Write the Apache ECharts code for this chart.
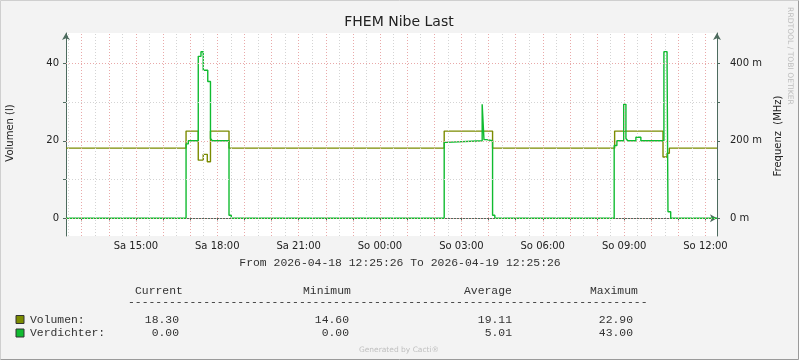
<!DOCTYPE html>
<html>
<head>
<meta charset="utf-8">
<title>FHEM Nibe Last</title>
<script src="https://cdn.jsdelivr.net/npm/echarts@6/dist/echarts.min.js"></script>
<style>
  html, body { margin: 0; padding: 0; background: #f3f3f3; }
  #chart { width: 799px; height: 360px; }
</style>
</head>
<body>
<div id="chart"></div>
<script>
// Zeitraum der Grafik
const startTime = '2026-04-18 12:25:26';
const endTime = '2026-04-19 12:25:26';

// Volumen (l): Wert gilt ab Zeitpunkt bis zum naechsten
const volumenTimes = [
  '2026-04-18 12:25:26', '2026-04-18 16:51', '2026-04-18 17:18', '2026-04-18 17:29',
  '2026-04-18 17:38', '2026-04-18 17:45', '2026-04-18 18:26',
  '2026-04-19 02:22', '2026-04-19 04:09',
  '2026-04-19 08:39', '2026-04-19 10:26', '2026-04-19 10:35', '2026-04-19 10:40',
  '2026-04-19 12:25:26'
];
const volumenValues = [
  18.1, 22.5, 15.0, 16.5,
  14.6, 22.5, 18.1,
  22.5, 18.1,
  22.5, 15.8, 16.8, 18.1,
  18.1
];

// Verdichter
const verdichterTimes = [
  '2026-04-18 12:25:26', '2026-04-18 16:51', '2026-04-18 16:56', '2026-04-18 17:18',
  '2026-04-18 17:24', '2026-04-18 17:29', '2026-04-18 17:39', '2026-04-18 17:45',
  '2026-04-18 17:49', '2026-04-18 18:26', '2026-04-18 18:31',
  '2026-04-19 02:22', '2026-04-19 02:27', '2026-04-19 03:46', '2026-04-19 03:50',
  '2026-04-19 03:56', '2026-04-19 04:09', '2026-04-19 04:14',
  '2026-04-19 08:38', '2026-04-19 08:44', '2026-04-19 08:59', '2026-04-19 09:04',
  '2026-04-19 09:08', '2026-04-19 09:26', '2026-04-19 09:37', '2026-04-19 10:28',
  '2026-04-19 10:35', '2026-04-19 10:37', '2026-04-19 10:43',
  '2026-04-19 12:25:26'
];
const verdichterValues = [
  0, 19.2, 20.0, 41.8,
  43.0, 38.2, 35.3, 20.6,
  20.0, 0.8, 0,
  19.6, 20.0, 29.4, 20.3,
  20.0, 0.8, 0,
  18.8, 20.0, 29.4, 20.6,
  20.0, 20.9, 20.0, 43.0,
  40.0, 1.7, 0,
  0
];

// Achsen-Beschriftungen
const xLabelTimes = [
  '2026-04-18 15:00', '2026-04-18 18:00', '2026-04-18 21:00', '2026-04-19 00:00',
  '2026-04-19 03:00', '2026-04-19 06:00', '2026-04-19 09:00', '2026-04-19 12:00'
];
const leftTicks = [0, 10, 20, 30, 40];
const leftLabels = [0, 20, 40];
const rightTicks = [0, 100, 200, 300, 400];
const rightLabels = [0, 200, 400];
const majorY = [0, 20, 40];
const minorY = [10, 30];

// Legende
const legendNames = ['Volumen:', 'Verdichter:'];
const currentVals = ['18.30', '0.00'];
const minVals = ['14.60', '0.00'];
const avgVals = ['19.11', '5.01'];
const maxVals = ['22.90', '43.00'];

const COL_VOL = '#7b8b00';
const COL_VERD = '#10bb30';
const COL_AXIS = '#4d6b5e';
const COL_MGRID = '#e9a9a9';
const COL_GRID = '#d4d4d4';
const WEEKDAYS = ['So', 'Mo', 'Di', 'Mi', 'Do', 'Fr', 'Sa'];

const parseT = s => new Date(s.replace(' ', 'T')).getTime();
const pad = n => String(n).padStart(2, '0');

// Stufenverlauf: am Zeitpunkt senkrecht auf den neuen Wert springen
function stepPairs(times, values) {
  const out = [];
  times.forEach((t, i) => {
    const ms = parseT(t);
    if (i > 0) out.push([ms, values[i - 1]]);
    out.push([ms, values[i]]);
  });
  return out;
}

const tMin = parseT(startTime);
const tMax = parseT(endTime);

// Gitterlinien: stuendlich (rot) und halbstuendlich (grau)
const HOUR = 3600 * 1000;
const firstHour = parseT('2026-04-18 13:00');
const hourLines = [];
const halfLines = [];
for (let t = firstHour - HOUR / 2; t < tMax; t += HOUR / 2) {
  if (t <= tMin) continue;
  if ((t - firstHour) % HOUR === 0) hourLines.push(t); else halfLines.push(t);
}

const dotted = [1, 2];
const gridMarks = [
  ...halfLines.map(t => ({ xAxis: t, lineStyle: { color: COL_GRID } })),
  ...minorY.map(v => ({ yAxis: v, lineStyle: { color: COL_GRID } })),
  ...hourLines.map(t => ({ xAxis: t, lineStyle: { color: COL_MGRID } })),
  ...majorY.map(v => ({ yAxis: v, lineStyle: { color: COL_MGRID } }))
];

const mono = 'Liberation Mono';
const monoSize = 11.4;
function monoText(x, y, text, align) {
  return {
    type: 'text', silent: true,
    style: { x, y, text, fill: '#333', font: `${monoSize}px "${mono}"`, textAlign: align || 'left', textVerticalAlign: 'middle' }
  };
}

const legendGraphics = [];
legendNames.forEach((name, i) => {
  const y = 319.5 + i * 13.5;
  legendGraphics.push({
    type: 'rect', silent: true,
    shape: { x: 16, y: y - 4, width: 8, height: 8 },
    style: { fill: i === 0 ? COL_VOL : COL_VERD, stroke: '#333', lineWidth: 1 }
  });
  legendGraphics.push(monoText(30, y, name));
  legendGraphics.push(monoText(179, y, currentVals[i], 'right'));
  legendGraphics.push(monoText(349, y, minVals[i], 'right'));
  legendGraphics.push(monoText(512, y, avgVals[i], 'right'));
  legendGraphics.push(monoText(633, y, maxVals[i], 'right'));
});

const axisLineCfg = { show: true, lineStyle: { color: COL_AXIS, width: 1 }, symbol: ['none', 'arrow'], symbolSize: [6, 7] };

const chart = echarts.init(document.getElementById('chart'));
chart.setOption({
  backgroundColor: '#f3f3f3',
  animation: false,
  grid: { left: 66, right: 82, top: 33, bottom: 124, show: true, backgroundColor: '#ffffff', borderWidth: 0 },
  xAxis: {
    type: 'value', min: tMin, max: tMax, scale: true,
    axisLine: axisLineCfg,
    axisTick: { show: true, length: 3, lineStyle: { color: COL_AXIS }, customValues: hourLines },
    axisLabel: {
      customValues: xLabelTimes.map(parseT),
      color: '#222', fontFamily: 'DejaVu Sans', fontSize: 10, margin: 5,
      formatter: v => { const d = new Date(v); return WEEKDAYS[d.getDay()] + ' ' + pad(d.getHours()) + ':' + pad(d.getMinutes()); }
    },
    splitLine: { show: false }
  },
  yAxis: [
    {
      type: 'value', min: -4.57, max: 47.82, position: 'left',
      axisLine: axisLineCfg,
      axisTick: { show: true, length: 3, lineStyle: { color: COL_AXIS }, customValues: leftTicks },
      axisLabel: { customValues: leftLabels, color: '#222', fontFamily: 'DejaVu Sans', fontSize: 10, margin: 7 },
      splitLine: { show: false }
    },
    {
      type: 'value', min: -45.7, max: 478.2, position: 'right',
      axisLine: axisLineCfg,
      axisTick: { show: true, length: 3, lineStyle: { color: COL_AXIS }, customValues: rightTicks },
      axisLabel: { customValues: rightLabels, color: '#222', fontFamily: 'DejaVu Sans', fontSize: 10, margin: 13, formatter: v => v + ' m' },
      splitLine: { show: false }
    }
  ],
  series: [
    {
      name: 'grid', type: 'line', data: [], silent: true, z: 1,
      markLine: {
        silent: true, symbol: 'none', label: { show: false },
        lineStyle: { type: dotted, width: 1 },
        emphasis: { disabled: true },
        data: gridMarks
      }
    },
    {
      name: 'Volumen', type: 'line', showSymbol: false, symbol: 'none', z: 3,
      data: stepPairs(volumenTimes, volumenValues),
      lineStyle: { color: COL_VOL, width: 1.4 }, itemStyle: { color: COL_VOL }
    },
    {
      name: 'Verdichter', type: 'line', showSymbol: false, symbol: 'none', z: 4,
      data: stepPairs(verdichterTimes, verdichterValues),
      lineStyle: { color: COL_VERD, width: 1.4 }, itemStyle: { color: COL_VERD }
    }
  ],
  graphic: [
    // Rahmen
    { type: 'polyline', silent: true, shape: { points: [[0.5, 359.5], [0.5, 0.5], [798.5, 0.5]] }, style: { stroke: '#cfcfcf', lineWidth: 1, fill: null } },
    { type: 'polyline', silent: true, shape: { points: [[0.5, 359.5], [798.5, 359.5], [798.5, 0.5]] }, style: { stroke: '#9a9a9a', lineWidth: 1, fill: null } },
    { type: 'text', silent: true, style: { x: 399, y: 22, text: 'FHEM Nibe Last', fill: '#222', font: '14px "DejaVu Sans"', textAlign: 'center', textVerticalAlign: 'middle' } },
    { type: 'text', silent: true, x: 10, y: 133, rotation: Math.PI / 2, style: { x: 0, y: 0, text: 'Volumen (l)', fill: '#222', font: '10px "DejaVu Sans"', textAlign: 'center', textVerticalAlign: 'middle' } },
    { type: 'text', silent: true, x: 778, y: 136, rotation: Math.PI / 2, style: { x: 0, y: 0, text: 'Frequenz  (MHz)', fill: '#222', font: '10px "DejaVu Sans"', textAlign: 'center', textVerticalAlign: 'middle' } },
    { type: 'text', silent: true, x: 790, y: 56, rotation: -Math.PI / 2, style: { x: 0, y: 0, text: 'RRDTOOL / TOBI OETIKER', fill: '#bdbdbd', font: '7.6px "DejaVu Sans"', textAlign: 'center', textVerticalAlign: 'middle' } },
    monoText(400, 262.5, 'From 2026-04-18 12:25:26 To 2026-04-19 12:25:26', 'center'),
    monoText(135, 290.5, 'Current'),
    monoText(303, 290.5, 'Minimum'),
    monoText(464, 290.5, 'Average'),
    monoText(590, 290.5, 'Maximum'),
    monoText(128, 302, '-'.repeat(76)),
    ...legendGraphics,
    { type: 'text', silent: true, style: { x: 399, y: 350, text: 'Generated by Cacti®', fill: '#c0c0c0', font: '7.5px "DejaVu Sans"', textAlign: 'center', textVerticalAlign: 'middle' } }
  ]
});
</script>
</body>
</html>
